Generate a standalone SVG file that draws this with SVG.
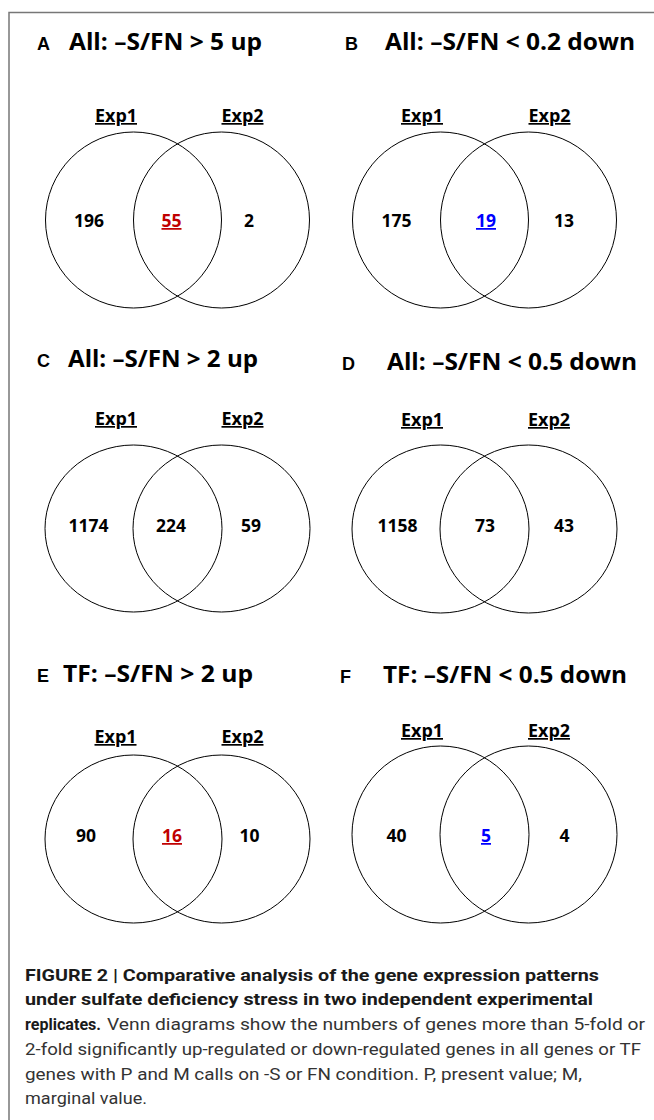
<svg xmlns="http://www.w3.org/2000/svg" width="654" height="1120" viewBox="0 0 654 1120">
<style>
.bg{fill:#ffffff}
.frame{fill:none;stroke:#777777;stroke-width:1.5}
.venn{fill:none;stroke:#000000;stroke-width:1}
.letter{font-family:"Liberation Sans",Arial,sans-serif;font-weight:bold;font-size:18px;fill:#000}
.title{font-family:"Open Sans",Lato,sans-serif;font-weight:bold;font-size:23px;fill:#000}
.exp{font-family:"Open Sans",Lato,sans-serif;font-weight:bold;font-size:17px;fill:#000;text-anchor:middle;text-decoration:underline}
.num{font-family:"Open Sans",Lato,sans-serif;font-weight:bold;font-size:17.5px;fill:#000;text-anchor:middle}
.red{fill:#c00000;text-decoration:underline}
.blue{fill:#0000ff;text-decoration:underline}
.capb{font-family:Roboto,"Liberation Sans",sans-serif;font-weight:bold;font-size:17px;fill:#1a1a1a}
.cap{font-family:Roboto,"Liberation Sans",sans-serif;font-size:17px;fill:#333333}
</style>
<rect class="bg" x="0" y="0" width="654" height="1120"/>
<path class="frame" d="M9,1120 V12.5 H654"/>

<g id="panelA">
<text class="letter" x="37" y="50">A</text>
<text class="title" x="69" y="50" textLength="193" lengthAdjust="spacingAndGlyphs">All: –S/FN &gt; 5 up</text>
<text class="exp" x="116" y="122" textLength="42" lengthAdjust="spacingAndGlyphs">Exp1</text>
<text class="exp" x="242.5" y="122" textLength="42" lengthAdjust="spacingAndGlyphs">Exp2</text>
<circle class="venn" cx="133.5" cy="220" r="88"/>
<circle class="venn" cx="221.5" cy="220" r="88"/>
<text class="num" x="89" y="227">196</text>
<text class="num red" x="171.5" y="227">55</text>
<text class="num" x="249" y="227">2</text>
</g>

<g id="panelB">
<text class="letter" x="345" y="50">B</text>
<text class="title" x="385" y="50" textLength="250" lengthAdjust="spacingAndGlyphs">All: –S/FN &lt; 0.2 down</text>
<text class="exp" x="422" y="122" textLength="42" lengthAdjust="spacingAndGlyphs">Exp1</text>
<text class="exp" x="549.5" y="122" textLength="42" lengthAdjust="spacingAndGlyphs">Exp2</text>
<circle class="venn" cx="440.5" cy="220" r="88"/>
<circle class="venn" cx="528.5" cy="220" r="88"/>
<text class="num" x="396.5" y="227">175</text>
<text class="num blue" x="486" y="227">19</text>
<text class="num" x="564" y="227">13</text>
</g>

<g id="panelC">
<text class="letter" x="37" y="367">C</text>
<text class="title" x="68" y="367" textLength="190" lengthAdjust="spacingAndGlyphs">All: –S/FN &gt; 2 up</text>
<text class="exp" x="116" y="425" textLength="42" lengthAdjust="spacingAndGlyphs">Exp1</text>
<text class="exp" x="242.5" y="425" textLength="42" lengthAdjust="spacingAndGlyphs">Exp2</text>
<ellipse class="venn" cx="133.5" cy="528.5" rx="88.5" ry="83.5"/>
<ellipse class="venn" cx="221.5" cy="528.5" rx="88.5" ry="83.5"/>
<text class="num" x="88.5" y="532">1174</text>
<text class="num" x="171" y="532">224</text>
<text class="num" x="251" y="532">59</text>
</g>

<g id="panelD">
<text class="letter" x="342" y="370">D</text>
<text class="title" x="387" y="370" textLength="250" lengthAdjust="spacingAndGlyphs">All: –S/FN &lt; 0.5 down</text>
<text class="exp" x="422" y="426" textLength="42" lengthAdjust="spacingAndGlyphs">Exp1</text>
<text class="exp" x="549" y="426" textLength="42" lengthAdjust="spacingAndGlyphs">Exp2</text>
<ellipse class="venn" cx="440.5" cy="529" rx="88.5" ry="84"/>
<ellipse class="venn" cx="528.5" cy="529" rx="88.5" ry="84"/>
<text class="num" x="397.5" y="532">1158</text>
<text class="num" x="485" y="532">73</text>
<text class="num" x="564" y="532">43</text>
</g>

<g id="panelE">
<text class="letter" x="37" y="682">E</text>
<text class="title" x="63" y="682" textLength="190" lengthAdjust="spacingAndGlyphs">TF: –S/FN &gt; 2 up</text>
<text class="exp" x="115.5" y="743" textLength="42" lengthAdjust="spacingAndGlyphs">Exp1</text>
<text class="exp" x="242.5" y="743" textLength="42" lengthAdjust="spacingAndGlyphs">Exp2</text>
<ellipse class="venn" cx="133.5" cy="839" rx="88.5" ry="84"/>
<ellipse class="venn" cx="221.5" cy="839" rx="88.5" ry="84"/>
<text class="num" x="86" y="842">90</text>
<text class="num red" x="172" y="842">16</text>
<text class="num" x="249.5" y="842">10</text>
</g>

<g id="panelF">
<text class="letter" x="340" y="683">F</text>
<text class="title" x="383" y="683" textLength="244" lengthAdjust="spacingAndGlyphs">TF: –S/FN &lt; 0.5 down</text>
<text class="exp" x="422" y="737" textLength="42" lengthAdjust="spacingAndGlyphs">Exp1</text>
<text class="exp" x="549" y="737" textLength="42" lengthAdjust="spacingAndGlyphs">Exp2</text>
<circle class="venn" cx="440.5" cy="834.5" r="88.5"/>
<circle class="venn" cx="528.5" cy="834.5" r="88.5"/>
<text class="num" x="396.5" y="842">40</text>
<text class="num blue" x="486" y="842">5</text>
<text class="num" x="564.5" y="842">4</text>
</g>

<g id="caption">
<text class="capb" x="25" y="981" textLength="574" lengthAdjust="spacingAndGlyphs">FIGURE 2 | Comparative analysis of the gene expression patterns</text>
<text class="capb" x="25" y="1005" textLength="568" lengthAdjust="spacingAndGlyphs">under sulfate deficiency stress in two independent experimental</text>
<text class="capb" x="25" y="1030" textLength="76" lengthAdjust="spacingAndGlyphs">replicates.</text>
<text class="cap" x="107" y="1030" textLength="538" lengthAdjust="spacingAndGlyphs">Venn diagrams show the numbers of genes more than 5-fold or</text>
<text class="cap" x="25" y="1055" textLength="616" lengthAdjust="spacingAndGlyphs">2-fold significantly up-regulated or down-regulated genes in all genes or TF</text>
<text class="cap" x="25" y="1080" textLength="557" lengthAdjust="spacingAndGlyphs">genes with P and M calls on -S or FN condition. P, present value; M,</text>
<text class="cap" x="25" y="1104" textLength="122" lengthAdjust="spacingAndGlyphs">marginal value.</text>
</g>
</svg>
